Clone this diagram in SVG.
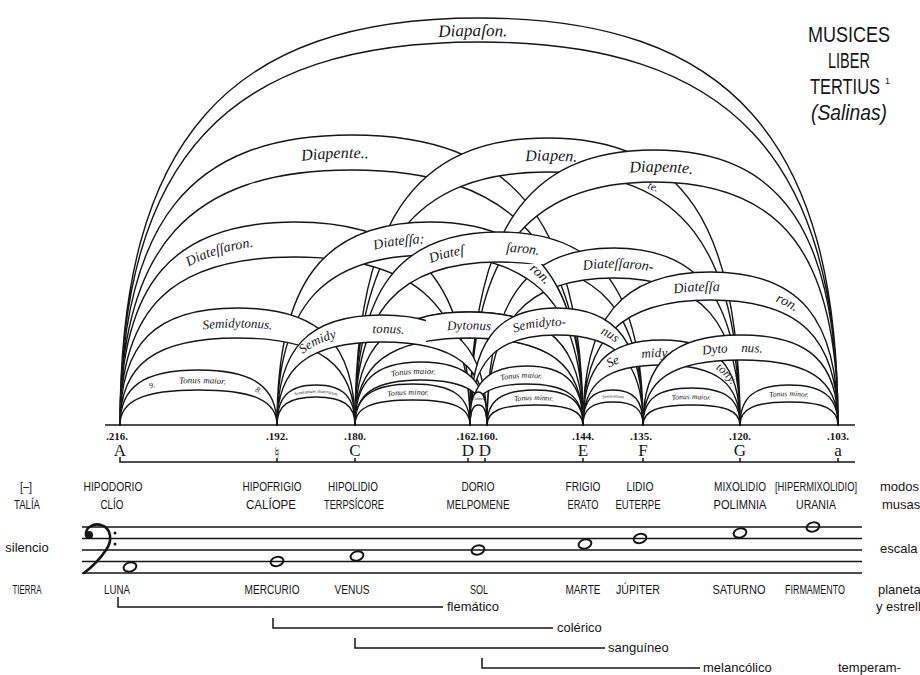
<svg xmlns="http://www.w3.org/2000/svg" width="920" height="675" viewBox="0 0 920 675">
<style>
.band{fill:#fff;stroke:#151515;stroke-width:1.4;stroke-linejoin:round}
.lbl{font-family:"Liberation Serif",serif;font-style:italic;fill:#151515}
.num{font-family:"Liberation Serif",serif;font-size:11px;font-weight:bold;fill:#151515;text-anchor:middle}
.let{font-family:"Liberation Serif",serif;font-size:17px;fill:#151515;text-anchor:middle}
.cap{font-family:"Liberation Sans",sans-serif;font-size:12.5px;fill:#151515;text-anchor:middle}
.low{font-family:"Liberation Sans",sans-serif;font-size:13px;fill:#151515}
.ttl{font-family:"Liberation Sans",sans-serif;font-size:22px;fill:#151515;text-anchor:middle}
.ln{stroke:#151515;stroke-width:1.5;fill:none}
.note{fill:none;stroke:#151515;stroke-width:2}
</style>
<defs>
<path id="t1" d="M120 425C120 152.7 227.7 36 479 36C730.3 36 838 152.7 838 425"/>
<path id="t2" d="M120 425C120 238.1 189.45 158 351.5 158C513.55 158 583 238.1 583 425"/>
<path id="t3" d="M355 425C355 239.9 412.75 160.6 547.5 160.6C682.25 160.6 740 239.9 740 425"/>
<path id="t4" d="M470 425C470 247.6 525.2 171.6 654 171.6C782.8 171.6 838 247.6 838 425"/>
<path id="t5" d="M120 425C120 298.6 172.5 244.4 295 244.4C417.5 244.4 470 298.6 470 425"/>
<path id="t6" d="M277 425C277 297.9 322.9 243.4 430 243.4C537.1 243.4 583 297.9 583 425"/>
<path id="t7" d="M355 425C355 303.8 398.2 251.9 499 251.9C599.8 251.9 643 303.8 643 425"/>
<path id="t8" d="M487 425C487 315 524.95 267.9 613.5 267.9C702.05 267.9 740 315 740 425"/>
<path id="t9" d="M583 425C583 331.1 621.25 290.9 710.5 290.9C799.75 290.9 838 331.1 838 425"/>
<path id="t10" d="M120 425C120 356.75 155.25 327.5 237.5 327.5C319.75 327.5 355 356.75 355 425"/>
<path id="t11" d="M277 425C277 360.6 308.5 333 382 333C455.5 333 487 360.6 487 425"/>
<path id="t12" d="M355 425C355 358.15 389.2 329.5 469 329.5C548.8 329.5 583 358.15 583 425"/>
<path id="t13" d="M470 425C470 355.7 495.95 326 556.5 326C617.05 326 643 355.7 643 425"/>
<path id="t14" d="M583 425C583 377.4 606.55 357 661.5 357C716.45 357 740 377.4 740 425"/>
<path id="t15" d="M643 425C643 373.9 672.25 352 740.5 352C808.75 352 838 373.9 838 425"/>
<path id="t16" d="M120 425C120 395.7 143.55 383.2 198.5 383.2C253.45 383.2 277 395.7 277 425"/>
<path id="t17" d="M277 425C277 402.5 288.7 392.8 316 392.8C343.3 392.8 355 402.5 355 425"/>
<path id="t18" d="M355 425C355 389.3 374.8 374 421 374C467.2 374 487 389.3 487 425"/>
<path id="t19" d="M355 425C355 403.9 372.25 394.8 412.5 394.8C452.75 394.8 470 403.9 470 425"/>
<path id="t21" d="M470 425C470 392 486.95 377.8 526.5 377.8C566.05 377.8 583 392 583 425"/>
<path id="t22" d="M487 425C487 407.6 501.4 400.1 535 400.1C568.6 400.1 583 407.6 583 425"/>
<path id="t23" d="M583 425C583 405.8 592 397.6 613 397.6C634 397.6 643 405.8 643 425"/>
<path id="t24" d="M643 425C643 406.9 657.55 399.1 691.5 399.1C725.45 399.1 740 406.9 740 425"/>
<path id="t25" d="M740 425C740 404.8 754.7 396.1 789 396.1C823.3 396.1 838 404.8 838 425"/>
<clipPath id="clip12"><rect x="426" y="295" width="180" height="58"/></clipPath>
<clipPath id="clip6"><rect x="518" y="264" width="50" height="40"/></clipPath>
</defs>
<rect width="920" height="675" fill="#fff"/>

<g id="title">
<text class="ttl" x="849" y="42" textLength="82" lengthAdjust="spacingAndGlyphs">MUSICES</text>
<text class="ttl" x="849" y="68" textLength="42" lengthAdjust="spacingAndGlyphs">LIBER</text>
<text class="ttl" x="845" y="94" textLength="70" lengthAdjust="spacingAndGlyphs">TERTIUS</text>
<text x="885" y="84" style="font-family:'Liberation Sans',sans-serif;font-size:9px;fill:#151515">1</text>
<text class="ttl" x="849" y="120" font-style="italic" textLength="76" lengthAdjust="spacingAndGlyphs">(Salinas)</text>
</g>

<g id="connectors">
<g id="diapason">
<path class="band" d="M120 425C120 140.1 227.7 18 479 18C730.3 18 838 140.1 838 425C838 156.9 730.3 42 479 42C227.7 42 120 156.9 120 425Z"/>
<text class="lbl" font-size="17" text-anchor="middle"><textPath href="#t1" startOffset="49.5%">Diapaſon.</textPath></text>
</g>
<g id="diapente-A-E">
<path class="band" d="M120 425C120 222 189.45 135 351.5 135C513.55 135 583 222 583 425C583 246.5 513.55 170 351.5 170C189.45 170 120 246.5 120 425Z"/>
<text class="lbl" font-size="16" text-anchor="middle"><textPath href="#t2" startOffset="48%">Diapente..</textPath></text>
</g>
<g id="diapente-C-G">
<path class="band" d="M355 425C355 224.1 412.75 138 547.5 138C682.25 138 740 224.1 740 425C740 247.9 682.25 172 547.5 172C412.75 172 355 247.9 355 425Z"/>
<text class="lbl" font-size="16" text-anchor="middle"><textPath href="#t3" startOffset="50.5%">Diapen.</textPath></text>
</g>
<g id="diapente-D-a">
<path class="band" d="M470 425C470 232.5 525.2 150 654 150C782.8 150 838 232.5 838 425C838 254.9 782.8 182 654 182C525.2 182 470 254.9 470 425Z"/>
<text class="lbl" font-size="16" text-anchor="middle"><textPath href="#t4" startOffset="51%">Diapente.</textPath></text>
<text class="lbl" font-size="11" transform="translate(652 190) rotate(22)" text-anchor="middle">te.</text>
</g>
<g id="diatessaron-A-D">
<path class="band" d="M120 425C120 282.9 172.5 222 295 222C417.5 222 470 282.9 470 425C470 307.4 417.5 257 295 257C172.5 257 120 307.4 120 425Z"/>
<text class="lbl" font-size="14" text-anchor="middle"><textPath href="#t5" startOffset="37%">Diateſſaron.</textPath></text>
</g>
<g id="diatessaron-H-E">
<path class="band" d="M277 425C277 282.9 322.9 222 430 222C537.1 222 583 282.9 583 425C583 306 537.1 255 430 255C322.9 255 277 306 277 425Z"/>
<text class="lbl" font-size="14" text-anchor="middle"><textPath href="#t6" startOffset="44.4%">Diateſſa:</textPath></text>
</g>
<g id="diatessaron-C-F">
<path class="band" d="M355 425C355 289.9 398.2 232 499 232C599.8 232 643 289.9 643 425C643 310.9 599.8 262 499 262C398.2 262 355 310.9 355 425Z"/>
<text class="lbl" font-size="14" text-anchor="middle"><textPath href="#t7" startOffset="40%">Diateſ</textPath></text>
<text class="lbl" font-size="14" text-anchor="middle"><textPath href="#t7" startOffset="54.5%">ſaron.</textPath></text>
</g>
<g id="diatessaron-D-G">
<path class="band" d="M487 425C487 301.1 524.95 248 613.5 248C702.05 248 740 301.1 740 425C740 322.1 702.05 278 613.5 278C524.95 278 487 322.1 487 425Z"/>
<text class="lbl" font-size="14" text-anchor="middle"><textPath href="#t8" startOffset="51%">Diateſſaron-</textPath></text>
</g>
<g id="diatessaron-H-E-over" clip-path="url(#clip6)">
<path class="band" d="M277 425C277 282.9 322.9 222 430 222C537.1 222 583 282.9 583 425C583 306 537.1 255 430 255C322.9 255 277 306 277 425Z"/>
<text class="lbl" font-size="14" text-anchor="middle"><textPath href="#t6" startOffset="71%">ron.</textPath></text>
</g>
<g id="diatessaron-E-a">
<path class="band" d="M583 425C583 317.9 621.25 272 710.5 272C799.75 272 838 317.9 838 425C838 337.5 799.75 300 710.5 300C621.25 300 583 337.5 583 425Z"/>
<text class="lbl" font-size="14" text-anchor="middle"><textPath href="#t9" startOffset="46.8%">Diateſſa</textPath></text>
<text class="lbl" font-size="14" text-anchor="middle"><textPath href="#t9" startOffset="68%">ron.</textPath></text>
</g>
<g id="semidytonus-A-C">
<path class="band" d="M120 425C120 343.1 155.25 308 237.5 308C319.75 308 355 343.1 355 425C355 364.1 319.75 338 237.5 338C155.25 338 120 364.1 120 425Z"/>
<text class="lbl" font-size="13" text-anchor="middle"><textPath href="#t10" startOffset="50%">Semidytonus.</textPath></text>
</g>
<g id="dytonus-C-E">
<path class="band" d="M355 425C355 345.9 389.2 312 469 312C548.8 312 583 345.9 583 425C583 364.1 548.8 338 469 338C389.2 338 355 364.1 355 425Z"/>
<text class="lbl" font-size="13" text-anchor="middle"><textPath href="#t12" startOffset="50%">Dytonus</textPath></text>
</g>
<g id="semidytonus-H-D">
<path class="band" d="M277 425C277 348 308.5 315 382 315C455.5 315 487 348 487 425C487 366.9 455.5 342 382 342C308.5 342 277 366.9 277 425Z"/>
<text class="lbl" font-size="13" text-anchor="middle"><textPath href="#t11" startOffset="30%">Semidy</textPath></text>
<text class="lbl" font-size="13" text-anchor="middle"><textPath href="#t11" startOffset="52%">tonus.</textPath></text>
</g>
<g id="dytonus-C-E-over" clip-path="url(#clip12)">
<path class="band" d="M355 425C355 345.9 389.2 312 469 312C548.8 312 583 345.9 583 425C583 364.1 548.8 338 469 338C389.2 338 355 364.1 355 425Z"/>
<text class="lbl" font-size="13" text-anchor="middle"><textPath href="#t12" startOffset="50%">Dytonus</textPath></text>
</g>
<g id="semidytonus-D-F">
<path class="band" d="M470 425C470 343.1 495.95 308 556.5 308C617.05 308 643 343.1 643 425C643 362 617.05 335 556.5 335C495.95 335 470 362 470 425Z"/>
<text class="lbl" font-size="13" text-anchor="middle"><textPath href="#t13" startOffset="44.5%">Semidyto-</textPath></text>
<text class="lbl" font-size="13" text-anchor="middle"><textPath href="#t13" startOffset="67.6%">nus</textPath></text>
</g>
<g id="semidytonus-E-G">
<path class="band" d="M583 425C583 365.5 606.55 340 661.5 340C716.45 340 740 365.5 740 425C740 383 716.45 365 661.5 365C606.55 365 583 383 583 425Z"/>
<text class="lbl" font-size="13" text-anchor="middle"><textPath href="#t14" startOffset="30%">Se</textPath></text>
<text class="lbl" font-size="13" text-anchor="middle"><textPath href="#t14" startOffset="48%">midy-</textPath></text>
<text class="lbl" font-size="12" text-anchor="middle"><textPath href="#t14" startOffset="78%">tony.</textPath></text>
</g>
<g id="dytonus-F-a">
<path class="band" d="M643 425C643 362 672.25 335 740.5 335C808.75 335 838 362 838 425C838 379.5 808.75 360 740.5 360C672.25 360 643 379.5 643 425Z"/>
<text class="lbl" font-size="13" text-anchor="middle"><textPath href="#t15" startOffset="41%">Dyto</textPath></text>
<text class="lbl" font-size="13" text-anchor="middle"><textPath href="#t15" startOffset="54%">nus.</textPath></text>
</g>
<g id="tonus-A-H">
<path class="band" d="M120 425C120 386.5 143.55 370 198.5 370C253.45 370 277 386.5 277 425C277 400.5 253.45 390 198.5 390C143.55 390 120 400.5 120 425Z"/>
<text class="lbl" font-size="8" text-anchor="middle"><textPath href="#t16" startOffset="27%">9.</textPath></text>
<text class="lbl" font-size="9" text-anchor="middle"><textPath href="#t16" startOffset="52%">Tonus maior.</textPath></text>
<text class="lbl" font-size="8" text-anchor="middle"><textPath href="#t16" startOffset="80%">8.</textPath></text>
</g>
<g id="semitonium-H-C">
<path class="band" d="M277 425C277 397 288.7 385 316 385C343.3 385 355 397 355 425C355 405.4 343.3 397 316 397C288.7 397 277 405.4 277 425Z"/>
<text class="lbl" font-size="4.5" text-anchor="middle"><textPath href="#t17" startOffset="50%">Semitonium diatonicum</textPath></text>
</g>
<g id="tonus-C-D160">
<path class="band" d="M355 425C355 380.9 374.8 362 421 362C467.2 362 487 380.9 487 425C487 393.5 467.2 380 421 380C374.8 380 355 393.5 355 425Z"/>
<text class="lbl" font-size="8.5" text-anchor="middle"><textPath href="#t18" startOffset="46%">Tonus maior.</textPath></text>
</g>
<g id="tonus-C-D162">
<path class="band" d="M355 425C355 396.3 372.25 384 412.5 384C452.75 384 470 396.3 470 425C470 407.5 452.75 400 412.5 400C372.25 400 355 407.5 355 425Z"/>
<text class="lbl" font-size="8" text-anchor="middle"><textPath href="#t19" startOffset="47%">Tonus minor.</textPath></text>
</g>
<g id="tonus-D162-E">
<path class="band" d="M470 425C470 383.7 486.95 366 526.5 366C566.05 366 583 383.7 583 425C583 396.3 566.05 384 526.5 384C486.95 384 470 396.3 470 425Z"/>
<text class="lbl" font-size="8" text-anchor="middle"><textPath href="#t21" startOffset="47%">Tonus maior.</textPath></text>
</g>
<g id="tonus-D160-E">
<path class="band" d="M487 425C487 400.5 501.4 390 535 390C568.6 390 583 400.5 583 425C583 411 568.6 405 535 405C501.4 405 487 411 487 425Z"/>
<text class="lbl" font-size="7.5" text-anchor="middle"><textPath href="#t22" startOffset="49%">Tonus minor.</textPath></text>
</g>
<g id="comma-D-D">
<path class="band" d="M470 425C470 401.9 472.55 392 478.5 392C484.45 392 487 401.9 487 425C487 411 484.45 405 478.5 405C472.55 405 470 411 470 425Z"/>
<text class="lbl" font-size="4" x="478.5" y="400" text-anchor="middle">Comma</text>
</g>
<g id="semitonium-E-F">
<path class="band" d="M583 425C583 400.5 592 390 613 390C634 390 643 400.5 643 425C643 408.9 634 402 613 402C592 402 583 408.9 583 425Z"/>
<text class="lbl" font-size="4.5" text-anchor="middle"><textPath href="#t23" startOffset="50%">Semitonium</textPath></text>
</g>
<g id="tonus-F-G">
<path class="band" d="M643 425C643 399.1 657.55 388 691.5 388C725.45 388 740 399.1 740 425C740 411 725.45 405 691.5 405C657.55 405 643 411 643 425Z"/>
<text class="lbl" font-size="7.5" text-anchor="middle"><textPath href="#t24" startOffset="50%">Tonus maior.</textPath></text>
</g>
<g id="tonus-G-a">
<path class="band" d="M740 425C740 397 754.7 385 789 385C823.3 385 838 397 838 425C838 408.9 823.3 402 789 402C754.7 402 740 408.9 740 425Z"/>
<text class="lbl" font-size="7.5" text-anchor="middle"><textPath href="#t25" startOffset="50%">Tonus minor.</textPath></text>
</g>
</g>

<g id="baselines">
<line class="ln" x1="105" y1="425" x2="855" y2="425"/>
<path class="ln" d="M120 457V462H855M277 458V462M355 458V462M468 458V462M485 458V462M583 458V462M643 458V462M740 458V462M838 458V462"/>
</g>

<g id="note-A"><text class="num" x="117" y="440">.216.</text><text class="let" x="120" y="456">A</text></g>
<g id="note-H"><text class="num" x="277" y="440">.192.</text><text x="277" y="458" style="font-family:'DejaVu Sans',sans-serif;font-size:15px;fill:#151515;text-anchor:middle">♮</text></g>
<g id="note-C"><text class="num" x="355" y="440">.180.</text><text class="let" x="355" y="456">C</text></g>
<g id="note-D"><text class="num" x="477" y="440">.162.160.</text><text class="let" x="468" y="456">D</text><text class="let" x="485" y="456">D</text></g>
<g id="note-E"><text class="num" x="583" y="440">.144.</text><text class="let" x="583" y="456">E</text></g>
<g id="note-F"><text class="num" x="641" y="440">.135.</text><text class="let" x="643" y="456">F</text></g>
<g id="note-G"><text class="num" x="740" y="440">.120.</text><text class="let" x="740" y="456">G</text></g>
<g id="note-a"><text class="num" x="838" y="440">.103.</text><text class="let" x="838" y="456">a</text></g>

<g id="row-labels">
<text class="cap" x="26" y="491" textLength="12" lengthAdjust="spacingAndGlyphs">[–]</text>
<text class="cap" x="27" y="509" textLength="26" lengthAdjust="spacingAndGlyphs">TALÍA</text>
<text class="low" x="27" y="552" text-anchor="middle">silencio</text>
<text class="cap" x="27" y="594" textLength="29" lengthAdjust="spacingAndGlyphs">TIERRA</text>
<text class="low" x="880" y="491">modos</text>
<text class="low" x="882" y="509">musas</text>
<text class="low" x="880" y="553">escala</text>
<text class="low" x="878" y="594">planetas</text>
<text class="low" x="876" y="611">y estrellas</text>
<text class="low" x="838" y="672">temperam-</text>
</g>

<g id="col-1"><text class="cap" x="113" y="491" textLength="59" lengthAdjust="spacingAndGlyphs">HIPODORIO</text><text class="cap" x="112" y="509" textLength="23" lengthAdjust="spacingAndGlyphs">CLÍO</text><text class="cap" x="117" y="594" textLength="26" lengthAdjust="spacingAndGlyphs">LUNA</text></g>
<g id="col-2"><text class="cap" x="272" y="491" textLength="59" lengthAdjust="spacingAndGlyphs">HIPOFRIGIO</text><text class="cap" x="271" y="509" textLength="50" lengthAdjust="spacingAndGlyphs">CALÍOPE</text><text class="cap" x="272" y="594" textLength="55" lengthAdjust="spacingAndGlyphs">MERCURIO</text></g>
<g id="col-3"><text class="cap" x="353" y="491" textLength="50" lengthAdjust="spacingAndGlyphs">HIPOLIDIO</text><text class="cap" x="354" y="509" textLength="60" lengthAdjust="spacingAndGlyphs">TERPSÍCORE</text><text class="cap" x="352" y="594" textLength="35" lengthAdjust="spacingAndGlyphs">VENUS</text></g>
<g id="col-4"><text class="cap" x="478" y="491" textLength="33" lengthAdjust="spacingAndGlyphs">DORIO</text><text class="cap" x="478" y="509" textLength="63" lengthAdjust="spacingAndGlyphs">MELPOMENE</text><text class="cap" x="479" y="594" textLength="18" lengthAdjust="spacingAndGlyphs">SOL</text></g>
<g id="col-5"><text class="cap" x="583" y="491" textLength="35" lengthAdjust="spacingAndGlyphs">FRIGIO</text><text class="cap" x="583" y="509" textLength="31" lengthAdjust="spacingAndGlyphs">ERATO</text><text class="cap" x="583" y="594" textLength="35" lengthAdjust="spacingAndGlyphs">MARTE</text></g>
<g id="col-6"><text class="cap" x="640" y="491" textLength="27" lengthAdjust="spacingAndGlyphs">LIDIO</text><text class="cap" x="638" y="509" textLength="45" lengthAdjust="spacingAndGlyphs">EUTERPE</text><text class="cap" x="638" y="594" textLength="44" lengthAdjust="spacingAndGlyphs">JÚPITER</text></g>
<g id="col-7"><text class="cap" x="740" y="491" textLength="52" lengthAdjust="spacingAndGlyphs">MIXOLIDIO</text><text class="cap" x="740" y="509" textLength="53" lengthAdjust="spacingAndGlyphs">POLIMNIA</text><text class="cap" x="739" y="594" textLength="53" lengthAdjust="spacingAndGlyphs">SATURNO</text></g>
<g id="col-8"><text class="cap" x="816" y="491" textLength="82" lengthAdjust="spacingAndGlyphs">[HIPERMIXOLIDIO]</text><text class="cap" x="816" y="509" textLength="40" lengthAdjust="spacingAndGlyphs">URANIA</text><text class="cap" x="815" y="594" textLength="60" lengthAdjust="spacingAndGlyphs">FIRMAMENTO</text></g>

<g id="staff">
<path class="ln" stroke-width="1.7" d="M82 527H862M82 538.5H862M82 550H862M82 561.5H862M82 573H862"/>
<g id="clef">
<circle cx="89" cy="535" r="4" fill="#151515"/>
<path d="M86 535C85 527 94 523 101 525C111 528 113 540 106 550C100 559 92 567 84 573" fill="none" stroke="#151515" stroke-width="2.6" stroke-linecap="round"/>
<circle cx="115" cy="533" r="1.5" fill="#151515"/>
<circle cx="115" cy="544" r="1.5" fill="#151515"/>
</g>
<ellipse class="note" cx="130" cy="567" rx="6.5" ry="4.5" transform="rotate(-15 130 567)"/>
<ellipse class="note" cx="277" cy="561.5" rx="6.5" ry="4.5" transform="rotate(-15 277 561.5)"/>
<ellipse class="note" cx="357" cy="556" rx="6.5" ry="4.5" transform="rotate(-15 357 556)"/>
<ellipse class="note" cx="478" cy="550" rx="6.5" ry="4.5" transform="rotate(-15 478 550)"/>
<ellipse class="note" cx="585" cy="544" rx="6.5" ry="4.5" transform="rotate(-15 585 544)"/>
<ellipse class="note" cx="640" cy="538.5" rx="6.5" ry="4.5" transform="rotate(-15 640 538.5)"/>
<ellipse class="note" cx="740" cy="533" rx="6.5" ry="4.5" transform="rotate(-15 740 533)"/>
<ellipse class="note" cx="813" cy="527" rx="6.5" ry="4.5" transform="rotate(-15 813 527)"/>
</g>

<g id="temperaments">
<path class="ln" stroke-width="1.2" d="M118 597V607H443M273 618V628H553M355 638V648H605M482 658V668H700"/>
<text class="low" x="447" y="611">flemático</text>
<text class="low" x="557" y="632">colérico</text>
<text class="low" x="608" y="652">sanguíneo</text>
<text class="low" x="703" y="672">melancólico</text>
</g>
</svg>
